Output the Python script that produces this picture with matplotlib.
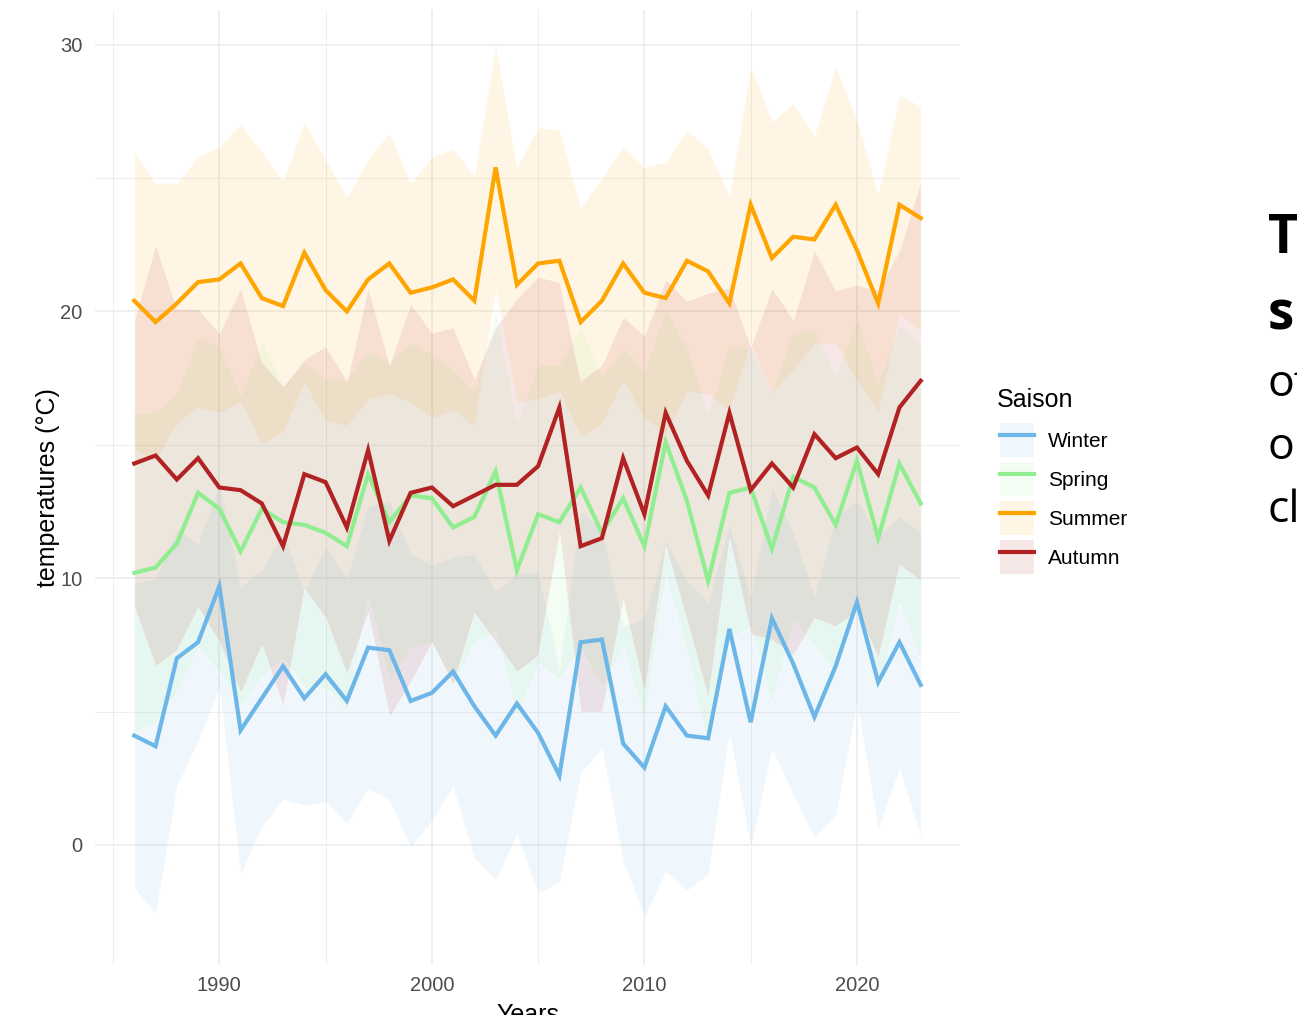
import matplotlib
matplotlib.use("Agg")
import matplotlib.pyplot as plt
import numpy as np
from matplotlib.colors import to_rgba
from matplotlib.lines import Line2D
from matplotlib.patches import Patch

plt.rcParams["font.family"] = ["Liberation Sans", "DejaVu Sans"]

years = np.arange(1986, 2024)

winter = [4.1, 3.7, 7.0, 7.6, 9.7, 4.3, 5.5, 6.7, 5.5, 6.4, 5.4, 7.4, 7.3, 5.4, 5.7, 6.5, 5.2, 4.1, 5.3, 4.2,
          2.6, 7.6, 7.7, 3.8, 2.9, 5.2, 4.1, 4.0, 8.1, 4.6, 8.5, 6.8, 4.8, 6.7, 9.1, 6.1, 7.6, 6.0]
spring = [10.2, 10.4, 11.3, 13.2, 12.6, 11.0, 12.6, 12.1, 12.0, 11.7, 11.2, 13.9, 12.1, 13.1, 13.0, 11.9, 12.3, 14.0, 10.3, 12.4,
          12.1, 13.4, 11.7, 13.0, 11.2, 15.1, 12.9, 9.9, 13.2, 13.4, 11.1, 13.8, 13.4, 12.0, 14.4, 11.5, 14.3, 12.8]
summer = [20.4, 19.6, 20.3, 21.1, 21.2, 21.8, 20.5, 20.2, 22.2, 20.8, 20.0, 21.2, 21.8, 20.7, 20.9, 21.2, 20.4, 25.4, 21.0, 21.8,
          21.9, 19.6, 20.4, 21.8, 20.7, 20.5, 21.9, 21.5, 20.3, 24.0, 22.0, 22.8, 22.7, 24.0, 22.3, 20.3, 24.0, 23.5]
autumn = [14.3, 14.6, 13.7, 14.5, 13.4, 13.3, 12.8, 11.2, 13.9, 13.6, 11.9, 14.8, 11.4, 13.2, 13.4, 12.7, 13.1, 13.5, 13.5, 14.2,
          16.4, 11.2, 11.5, 14.5, 12.4, 16.2, 14.4, 13.1, 16.2, 13.3, 14.3, 13.4, 15.4, 14.5, 14.9, 13.9, 16.4, 17.4]

# half width of each ribbon
winter_spread = [5.7, 6.3, 4.8, 3.7, 3.8, 5.4, 4.8, 5.0, 4.0, 4.8, 4.6, 5.3, 5.6, 5.5, 4.8, 4.3, 5.7, 5.4, 4.9, 6.0,
                 4.0, 4.9, 4.1, 4.4, 5.6, 6.2, 5.8, 5.1, 3.9, 4.7, 4.9, 4.9, 4.5, 5.6, 3.8, 5.5, 4.7, 5.7]
spring_spread = [6.0, 5.8, 5.6, 5.8, 6.1, 5.8, 6.3, 5.1, 6.1, 5.8, 6.2, 4.6, 6.0, 5.7, 5.4, 5.9, 4.7, 6.0, 5.5, 5.6,
                 5.9, 6.0, 5.8, 5.6, 6.5, 5.0, 5.7, 6.2, 5.5, 5.2, 5.8, 5.4, 5.9, 5.6, 5.3, 5.8, 5.2, 5.9]
summer_spread = [5.6, 5.2, 4.5, 4.7, 5.0, 5.2, 5.5, 4.7, 4.9, 4.9, 4.3, 4.5, 4.9, 4.1, 4.9, 4.9, 4.7, 4.6, 4.4, 5.1,
                 4.9, 4.3, 4.6, 4.4, 4.7, 5.1, 4.9, 4.6, 4.0, 5.2, 5.1, 5.0, 3.9, 5.2, 4.9, 4.1, 4.1, 4.2]
autumn_spread = [5.4, 7.9, 6.4, 5.6, 5.8, 7.6, 5.3, 6.0, 4.3, 5.1, 5.5, 6.1, 6.6, 7.1, 5.8, 6.7, 4.4, 5.9, 7.0, 7.1,
                 4.7, 6.2, 6.5, 5.3, 6.7, 5.0, 6.0, 7.6, 4.7, 5.4, 6.6, 6.3, 6.9, 6.3, 6.1, 6.9, 5.9, 7.5]

seasons = ["Winter", "Spring", "Summer", "Autumn"]
colors = ["#6DB6E8", "#90EE90", "#FFA500", "#B22222"]
means = [winter, spring, summer, autumn]
spreads = [winter_spread, spring_spread, summer_spread, autumn_spread]

fig = plt.figure(figsize=(12.97, 10.15), dpi=100)
ax = fig.add_axes([95/1297, 50/1015, 865/1297, 955/1015])

for m, s, c in zip(means, spreads, colors):
    m = np.array(m)
    s = np.array(s)
    ax.fill_between(years, m - s, m + s, facecolor=to_rgba(c, 0.1),
                    edgecolor=(1, 1, 1, 0.5), linewidth=0.6)

for m, c in zip(means, colors):
    ax.plot(years, m, color=c, lw=3.0, solid_joinstyle="miter")

ax.set_xlim(1984.15, 2024.85)
ax.set_ylim(-4.5, 31.3)
ax.set_xticks([1990, 2000, 2010, 2020])
ax.set_xticks([1985, 1995, 2005, 2015], minor=True)
ax.set_yticks([0, 10, 20, 30])
ax.set_yticks([5, 15, 25], minor=True)
ax.grid(which="major", color="#EBEBEB", lw=1.1)
ax.grid(which="minor", color="#EBEBEB", lw=0.6)
ax.set_axisbelow(True)
for sp in ax.spines.values():
    sp.set_visible(False)
ax.tick_params(which="both", length=0)
ax.tick_params(axis="x", pad=8, labelsize=14.5, labelcolor="#4D4D4D")
ax.tick_params(axis="y", pad=9, labelsize=14.5, labelcolor="#4D4D4D")

ax.set_xlabel("Years", fontsize=18)
ax.xaxis.set_label_coords(0.5, -0.040)
ax.set_ylabel("temperatures (°C)", fontsize=18)
ax.yaxis.set_label_coords(-0.041, 0.5)

# legend title placed on its own to get the ggplot spacing
fig.text(997/1297, 1 - 400/1015, "Saison", fontsize=18, va="center", ha="left")
handles = [(Patch(facecolor=to_rgba(c, 0.1), edgecolor="none"), Line2D([], [], color=c, lw=3.0))
           for c in colors]
leg = fig.legend(handles, seasons, loc="upper left",
                 bbox_to_anchor=(1000/1297, 1 - 423/1015), frameon=False,
                 fontsize=15, handlelength=1.63, handleheight=2.14,
                 labelspacing=0.24, handletextpad=0.67, borderpad=0, borderaxespad=0)

# cropped slide text at the right edge
side = ["T", "s", "of", "o", "cl"]
base = [253, 330, 396, 459, 522]
sizes = [38, 38, 32, 32, 32]
for t, b, w, fs in zip(side, base, ["bold", "bold", "normal", "normal", "normal"], sizes):
    fig.text(1268/1297, 1 - b/1015, t, fontsize=fs, fontweight=w,
             family=["Open Sans", "DejaVu Sans"], va="baseline", ha="left")

fig.savefig("out.png", dpi=100)
